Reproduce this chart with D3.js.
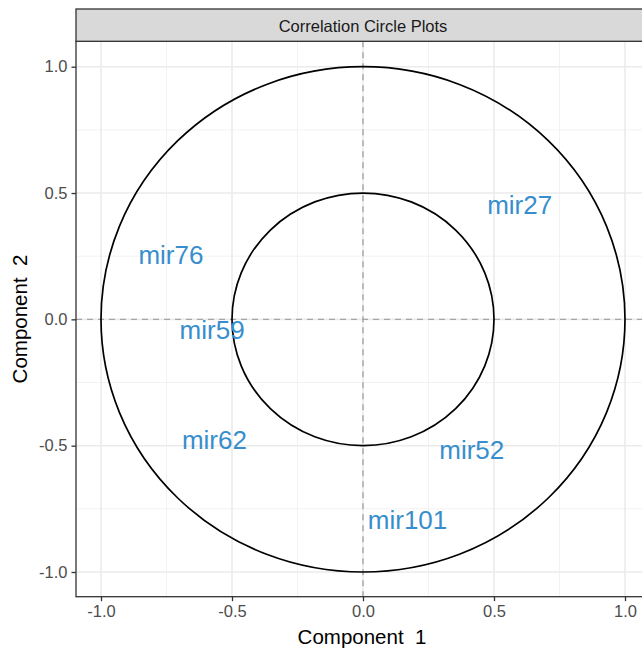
<!DOCTYPE html>
<html>
<head>
<meta charset="utf-8">
<script src="https://cdn.jsdelivr.net/npm/d3@7"></script>
<style>
  html, body { margin: 0; padding: 0; background: #ffffff; }
  svg { display: block; font-family: "Liberation Sans", Arial, sans-serif; }
</style>
</head>
<body>
<svg id="chart" width="642" height="653"></svg>
<script>
// Variable names and their correlations with components 1 and 2
const variables = ["mir27", "mir76", "mir59", "mir62", "mir52", "mir101"];
const comp1 = [0.598, -0.733, -0.576, -0.567, 0.415, 0.170];
const comp2 = [0.453, 0.255, -0.040, -0.478, -0.517, -0.791];

// Circle radii (outer = 1, inner = 0.5)
const radii = [1, 0.5];

// Axis ticks
const majorTicks = [-1, -0.5, 0, 0.5, 1];
const minorTicks = [-0.75, -0.25, 0.25, 0.75];
const tickLabels = ["-1.0", "-0.5", "0.0", "0.5", "1.0"];

const stripTitle = "Correlation Circle Plots";
const xTitle = "Component  1";
const yTitle = "Component  2";

const svg = d3.select("#chart");

const panel = { left: 76, top: 41.3, bottom: 596.7, right: 720 };

const x = d3.scaleLinear().domain([-1, 1]).range([101, 625]);
const y = d3.scaleLinear().domain([-1, 1]).range([572, 66.7]);

const textFs = 26;
const labelColor = "#388ECC";

// Panel background
svg.append("rect")
  .attr("x", panel.left).attr("y", panel.top)
  .attr("width", panel.right - panel.left).attr("height", panel.bottom - panel.top)
  .attr("fill", "#ffffff");

const g = svg.append("g");

// Minor grid
g.selectAll(".vminor").data(minorTicks).join("line")
  .attr("x1", d => x(d)).attr("x2", d => x(d))
  .attr("y1", panel.top).attr("y2", panel.bottom)
  .attr("stroke", "#f2f2f2").attr("stroke-width", 1);
g.selectAll(".hminor").data(minorTicks).join("line")
  .attr("y1", d => y(d)).attr("y2", d => y(d))
  .attr("x1", panel.left).attr("x2", panel.right)
  .attr("stroke", "#f2f2f2").attr("stroke-width", 1);

// Major grid
g.selectAll(".vmajor").data(majorTicks).join("line")
  .attr("x1", d => x(d)).attr("x2", d => x(d))
  .attr("y1", panel.top).attr("y2", panel.bottom)
  .attr("stroke", "#ebebeb").attr("stroke-width", 1.6);
g.selectAll(".hmajor").data(majorTicks).join("line")
  .attr("y1", d => y(d)).attr("y2", d => y(d))
  .attr("x1", panel.left).attr("x2", panel.right)
  .attr("stroke", "#ebebeb").attr("stroke-width", 1.6);

// Dashed reference lines through the origin
g.append("line")
  .attr("x1", x(0)).attr("x2", x(0))
  .attr("y1", panel.top).attr("y2", panel.bottom)
  .attr("stroke", "#a6a6a6").attr("stroke-width", 1.4)
  .attr("stroke-dasharray", "6,5");
g.append("line")
  .attr("y1", y(0)).attr("y2", y(0))
  .attr("x1", panel.left).attr("x2", panel.right)
  .attr("stroke", "#a6a6a6").attr("stroke-width", 1.4)
  .attr("stroke-dasharray", "6,5");

// Correlation circles
g.selectAll(".circ").data(radii).join("ellipse")
  .attr("cx", x(0)).attr("cy", y(0))
  .attr("rx", d => x(d) - x(0))
  .attr("ry", d => y(0) - y(d))
  .attr("fill", "none")
  .attr("stroke", "#000000")
  .attr("stroke-width", 1.7);

// Variable labels
g.selectAll(".lab").data(variables).join("text")
  .attr("x", (d, i) => x(comp1[i]))
  .attr("y", (d, i) => y(comp2[i]) + textFs * 0.358)
  .attr("text-anchor", "middle")
  .attr("font-size", textFs)
  .attr("fill", labelColor)
  .text(d => d);

// Panel border (left and bottom visible; right side runs off the frame)
svg.append("rect")
  .attr("x", panel.left).attr("y", panel.top)
  .attr("width", panel.right - panel.left).attr("height", panel.bottom - panel.top)
  .attr("fill", "none").attr("stroke", "#333333").attr("stroke-width", 1.3);

// Facet strip
svg.append("rect")
  .attr("x", panel.left).attr("y", 9)
  .attr("width", panel.right - panel.left).attr("height", panel.top - 9)
  .attr("fill", "#d9d9d9").attr("stroke", "#333333").attr("stroke-width", 1.3);
svg.append("text")
  .attr("x", (x(-1) + x(1)) / 2).attr("y", 31.5)
  .attr("text-anchor", "middle")
  .attr("font-size", 16.5)
  .attr("fill", "#1a1a1a")
  .text(stripTitle);

// Bottom axis
const xAxis = d3.axisBottom(x).tickValues(majorTicks)
  .tickFormat((d, i) => tickLabels[i]).tickSize(4.5).tickPadding(4);
const xg = svg.append("g").attr("transform", `translate(0,${panel.bottom})`).call(xAxis);
xg.select(".domain").remove();
xg.selectAll(".tick line").attr("stroke", "#333333").attr("stroke-width", 1.3);
xg.selectAll(".tick text").attr("font-size", 16.5).attr("fill", "#4d4d4d")
  .attr("font-family", "Liberation Sans, Arial, sans-serif");

// Left axis
const yAxis = d3.axisLeft(y).tickValues(majorTicks)
  .tickFormat((d, i) => tickLabels[i]).tickSize(4.5).tickPadding(4);
const yg = svg.append("g").attr("transform", `translate(${panel.left},0)`).call(yAxis);
yg.select(".domain").remove();
yg.selectAll(".tick line").attr("stroke", "#333333").attr("stroke-width", 1.3);
yg.selectAll(".tick text").attr("font-size", 16.5).attr("fill", "#4d4d4d")
  .attr("font-family", "Liberation Sans, Arial, sans-serif");

// Axis titles
svg.append("text")
  .attr("x", (x(-1) + x(1)) / 2 - 1).attr("y", 644)
  .attr("text-anchor", "middle")
  .attr("font-size", 20.5)
  .attr("fill", "#000000")
  .style("white-space", "pre")
  .text(xTitle);
svg.append("text")
  .attr("transform", `translate(27,${(panel.top + panel.bottom) / 2}) rotate(-90)`)
  .attr("text-anchor", "middle")
  .attr("font-size", 20.5)
  .attr("fill", "#000000")
  .style("white-space", "pre")
  .text(yTitle);
</script>
</body>
</html>
